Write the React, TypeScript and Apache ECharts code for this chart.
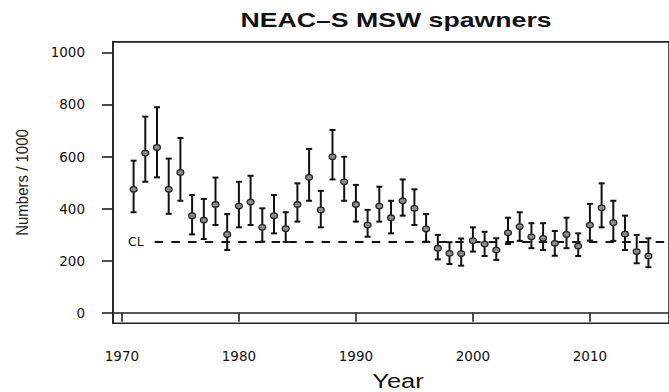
import React, { useEffect, useRef } from "react";
import * as echarts from "echarts";

const years = [
  1971, 1972, 1973, 1974, 1975, 1976, 1977, 1978, 1979, 1980,
  1981, 1982, 1983, 1984, 1985, 1986, 1987, 1988, 1989, 1990,
  1991, 1992, 1993, 1994, 1995, 1996, 1997, 1998, 1999, 2000,
  2001, 2002, 2003, 2004, 2005, 2006, 2007, 2008, 2009, 2010,
  2011, 2012, 2013, 2014, 2015,
];
const estimate = [
  474, 613, 635, 474, 539, 373, 356, 416, 301, 410,
  425, 328, 373, 323, 416, 520, 395, 599, 503, 416,
  337, 410, 365, 430, 401, 322, 248, 228, 227, 277,
  264, 241, 307, 331, 292, 286, 267, 301, 256, 337,
  403, 346, 302, 235, 218,
];
const lower = [
  386, 503, 520, 380, 430, 301, 283, 337, 241, 328,
  337, 273, 305, 272, 350, 430, 328, 512, 430, 350,
  292, 350, 305, 373, 337, 273, 205, 187, 181, 235,
  218, 203, 264, 276, 248, 241, 219, 248, 218, 277,
  328, 276, 241, 190, 175,
];
const upper = [
  584, 753, 789, 592, 671, 452, 437, 519, 379, 503,
  526, 401, 452, 386, 497, 629, 468, 702, 599, 491,
  395, 484, 430, 512, 474, 379, 299, 271, 285, 328,
  311, 286, 365, 386, 344, 344, 314, 365, 305, 418,
  497, 430, 373, 299, 286,
];
const xTicks = [1970, 1980, 1990, 2000, 2010];
const yTicks = [0, 200, 400, 600, 800, 1000];
const conservationLimit = 273;

const titleText = "NEAC–S MSW spawners";
const xLabel = "Year";
const yLabel = "Numbers / 1000";

export default function App() {
  const ref = useRef<HTMLDivElement>(null);

  useEffect(() => {
    if (!ref.current) return;
    const chart = echarts.init(ref.current, null, { renderer: "svg" });
    const xMin = 1969.24;
    const xMax = 2016.76;
    const clStart = 1972.8;
    const tickFont = "DejaVu Sans";

    const option: any = {
      animation: false,
      backgroundColor: "#ffffff",
      grid: {
        left: 113,
        top: 41.9,
        width: 567,
        height: 281.3,
        show: true,
        borderColor: "#222",
        borderWidth: 1.6,
        containLabel: false,
      },
      xAxis: {
        type: "value",
        min: xMin,
        max: xMax,
        axisLine: { show: true, lineStyle: { color: "#222", width: 1.6 } },
        splitLine: { show: false },
        axisTick: {
          show: true,
          customValues: xTicks,
          length: 9,
          inside: false,
          lineStyle: { color: "#222", width: 1.6 },
        },
        axisLabel: {
          show: true,
          customValues: xTicks,
          margin: 26,
          color: "#111",
          fontFamily: tickFont,
          fontSize: 13.5,
          formatter: (v: number) => String(v),
        },
      },
      yAxis: {
        type: "value",
        min: -40,
        max: 1040,
        axisLine: { show: true, lineStyle: { color: "#222", width: 1.6 } },
        splitLine: { show: false },
        axisTick: {
          show: true,
          customValues: yTicks,
          length: 11,
          inside: false,
          lineStyle: { color: "#222", width: 1.6 },
        },
        axisLabel: {
          show: true,
          customValues: yTicks,
          margin: 28,
          color: "#111",
          fontFamily: tickFont,
          fontSize: 13.5,
          formatter: (v: number) => String(v),
        },
      },
      graphic: [
        {
          type: "text",
          x: 396,
          y: 20,
          scaleX: 1.27,
          style: {
            text: titleText,
            align: "center",
            verticalAlign: "middle",
            font: 'bold 21px "Liberation Sans", Arial, sans-serif',
            fill: "#111",
          },
        },
        {
          type: "text",
          x: 398,
          y: 381,
          scaleX: 1.27,
          style: {
            text: xLabel,
            align: "center",
            verticalAlign: "middle",
            font: '20px "Liberation Sans", Arial, sans-serif',
            fill: "#111",
          },
        },
        {
          type: "text",
          x: 22,
          y: 182.5,
          rotation: Math.PI / 2,
          scaleY: 1.15,
          style: {
            text: yLabel,
            align: "center",
            verticalAlign: "middle",
            font: '15px "Liberation Sans", Arial, sans-serif',
            fill: "#222",
          },
        },
      ],
      series: [
        {
          type: "line",
          data: [],
          silent: true,
          markLine: {
            silent: true,
            symbol: ["none", "none"],
            lineStyle: { color: "#111", width: 1.8, type: [8.5, 8.2] },
            label: {
              show: true,
              position: "start",
              distance: 11,
              formatter: "CL",
              color: "#111",
              fontFamily: tickFont,
              fontSize: 12.5,
            },
            data: [
              [
                { coord: [clStart, conservationLimit] },
                { coord: [xMax, conservationLimit] },
              ],
            ],
          },
        },
        {
          type: "custom",
          z: 5,
          data: years.map((y, i) => [y, estimate[i], lower[i], upper[i]]),
          encode: { x: 0, y: [1, 2, 3] },
          renderItem: (params: any, api: any) => {
            const x = api.value(0);
            const pm = api.coord([x, api.value(1)]);
            const pl = api.coord([x, api.value(2)]);
            const ph = api.coord([x, api.value(3)]);
            const cw = 3;
            const st = { stroke: "#111", lineWidth: 2 };
            return {
              type: "group",
              children: [
                { type: "line", shape: { x1: pm[0], y1: pl[1], x2: pm[0], y2: ph[1] }, style: st },
                { type: "line", shape: { x1: pm[0] - cw, y1: pl[1], x2: pm[0] + cw, y2: pl[1] }, style: st },
                { type: "line", shape: { x1: pm[0] - cw, y1: ph[1], x2: pm[0] + cw, y2: ph[1] }, style: st },
                {
                  type: "ellipse",
                  shape: { cx: pm[0], cy: pm[1], rx: 3.4, ry: 2.7 },
                  style: { fill: "#8c8c8c", stroke: "#222", lineWidth: 1.3 },
                },
              ],
            };
          },
        },
      ],
    };

    chart.setOption(option);
    return () => {
      chart.dispose();
    };
  }, []);

  return (
    <div
      ref={ref}
      style={{
        position: "fixed",
        left: 0,
        top: 0,
        width: 669,
        height: 392,
        background: "#fff",
      }}
    />
  );
}
